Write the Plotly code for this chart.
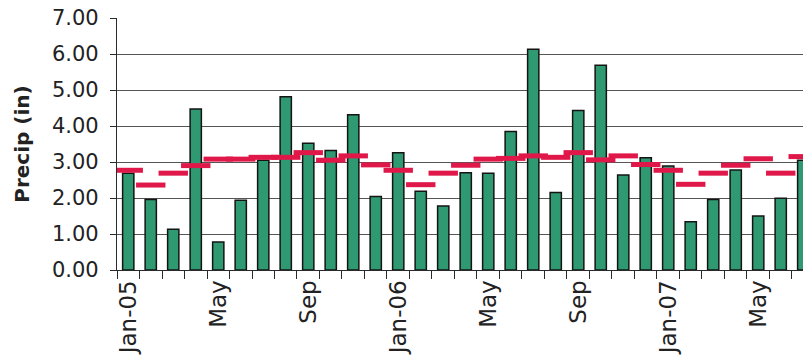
import plotly.graph_objects as go

# Monthly precipitation (in) and the monthly normal, Jan 2005 - Jul 2007
months = [
    "Jan-05", "Feb-05", "Mar-05", "Apr-05", "May-05", "Jun-05", "Jul-05", "Aug-05",
    "Sep-05", "Oct-05", "Nov-05", "Dec-05", "Jan-06", "Feb-06", "Mar-06", "Apr-06",
    "May-06", "Jun-06", "Jul-06", "Aug-06", "Sep-06", "Oct-06", "Nov-06", "Dec-06",
    "Jan-07", "Feb-07", "Mar-07", "Apr-07", "May-07", "Jun-07", "Jul-07",
]
precip = [
    2.69, 1.96, 1.13, 4.47, 0.78, 1.94, 3.05, 4.81, 3.52, 3.32, 4.31, 2.04,
    3.26, 2.19, 1.78, 2.70, 2.69, 3.85, 6.13, 2.15, 4.43, 5.69, 2.64, 3.12,
    2.89, 1.34, 1.96, 2.78, 1.50, 1.99, 3.05,
]
normal = [
    2.77, 2.36, 2.69, 2.90, 3.08, 3.08, 3.13, 3.13, 3.26, 3.05, 3.17, 2.92,
    2.77, 2.37, 2.69, 2.91, 3.08, 3.10, 3.17, 3.13, 3.26, 3.06, 3.17, 2.93,
    2.77, 2.38, 2.69, 2.91, 3.09, 2.69, 3.15,
]
# label every fourth month
tick_text = [
    "Jan-05", "", "", "", "May", "", "", "", "Sep", "", "", "",
    "Jan-06", "", "", "", "May", "", "", "", "Sep", "", "", "",
    "Jan-07", "", "", "", "May", "", "",
]

BAR_FILL = "#2f9a72"
BAR_EDGE = "#141414"
NORMAL_RED = "#e0184a"
AXIS = "#2a2a2a"
GRID = "#555555"
FONT = "DejaVu Sans"

fig = go.Figure()
fig.add_trace(go.Bar(
    x=months, y=precip,
    marker=dict(color=BAR_FILL, line=dict(color=BAR_EDGE, width=1.5)),
    width=0.5,
    showlegend=False,
))
fig.add_trace(go.Scatter(
    x=months, y=normal, mode="markers",
    marker=dict(symbol="line-ew", size=21,
                line=dict(color=NORMAL_RED, width=5)),
    cliponaxis=True,
    showlegend=False,
))

fig.update_layout(
    width=803, height=363,
    margin=dict(l=117, r=0, t=18, b=93),
    paper_bgcolor="white", plot_bgcolor="white",
    font=dict(family=FONT, color="#222222"),
)
fig.update_yaxes(
    range=[0, 7], dtick=1, tickformat=".2f",
    showgrid=True, gridcolor=GRID, gridwidth=1,
    showline=True, linecolor=AXIS, linewidth=1.2,
    ticks="outside", ticklen=6, tickcolor=AXIS,
    tickfont=dict(size=21, family=FONT, color="#222222"),
    ticklabelstandoff=7,
    zeroline=False,
    title=dict(text="<b>Precip (in)</b>", font=dict(size=20, family=FONT),
               standoff=16),
)
fig.update_xaxes(
    type="category", range=[-0.5, 29.99],
    tickmode="array", tickvals=months, ticktext=tick_text,
    tickson="boundaries", ticks="outside", ticklen=8, tickcolor=AXIS,
    tickangle=-90, tickfont=dict(size=23, family=FONT, color="#222222"),
    showline=True, linecolor=AXIS, linewidth=1.2,
    showgrid=False,
)

fig.write_html("out.html")
